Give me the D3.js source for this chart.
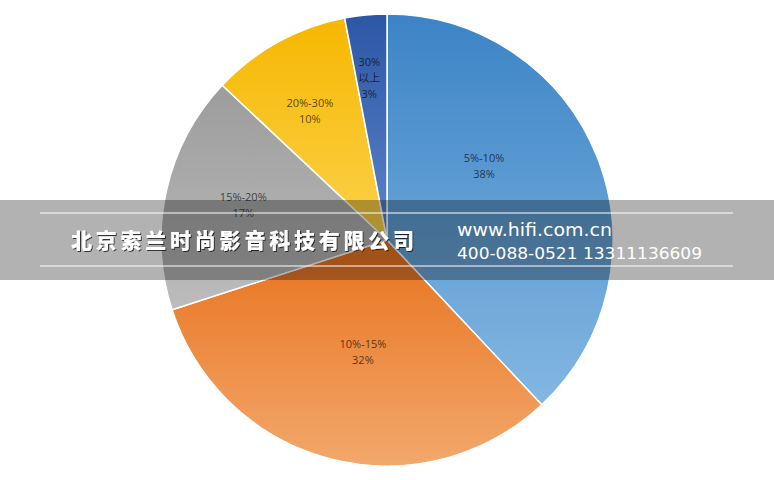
<!DOCTYPE html>
<html><head><meta charset="utf-8">
<script src="https://cdn.jsdelivr.net/npm/d3@7"></script>
<style>html,body{margin:0;padding:0;background:#fff;}svg{display:block;}</style>
</head><body>
<svg id="chart" width="774" height="480"></svg>
<script>
// ---- data ----
const categories = ["5%-10%", "10%-15%", "15%-20%", "20%-30%", "30%以上"];
const values = [38, 32, 17, 10, 3];
const percentLabels = ["38%", "32%", "17%", "10%", "3%"];
const companyName = "北京索兰时尚影音科技有限公司";
const website = "www.hifi.com.cn";
const phones = "400-088-0521  13311136609";

// ---- style / layout ----
const gradTop = ["#3c84c6", "#e8721d", "#9c9c9c", "#f6b700", "#2c57a4"];
const gradBottom = ["#84b7e2", "#f2a86c", "#bcbcbc", "#fbd24c", "#5d84ca"];
const labelFrac = [0.385, 0.48, 0.52, 0.44, 0.42];
const labelRad = [122, 115, 148, 150, 163];

const svg = d3.select("#chart");
const cx = 387, cy = 240, R = 226;
const defs = svg.append("defs");
gradTop.forEach((c, i) => {
  const g = defs.append("linearGradient").attr("id", "g" + i)
    .attr("x1", 0).attr("y1", 0).attr("x2", 0).attr("y2", 1);
  g.append("stop").attr("offset", "0%").attr("stop-color", c);
  g.append("stop").attr("offset", "100%").attr("stop-color", gradBottom[i]);
});

const pie = d3.pie().sort(null).value(d => d);
const arcs = pie(values);
const arc = d3.arc().innerRadius(0).outerRadius(R);
const g = svg.append("g").attr("transform", `translate(${cx},${cy})`);
g.selectAll("path.slice").data(arcs).join("path")
  .attr("class", "slice")
  .attr("d", arc)
  .attr("fill", (d, i) => `url(#g${i})`)
  .attr("stroke", "#ffffff").attr("stroke-width", 1.5).attr("stroke-linejoin", "round");

// labels
g.selectAll("text.lab").data(arcs).join("text")
  .attr("class", "lab")
  .attr("font-family", "'Open Sans', 'Noto Sans CJK SC', sans-serif")
  .attr("font-size", 11)
  .attr("fill", "rgba(0,0,0,0.68)")
  .attr("text-anchor", "middle")
  .each(function(d, i) {
    const a = d.startAngle + (d.endAngle - d.startAngle) * labelFrac[i];
    const x = Math.sin(a) * labelRad[i];
    const y = -Math.cos(a) * labelRad[i];
    let lines = [categories[i], percentLabels[i]];
    if (categories[i] === "30%以上") lines = ["30%", "以上", percentLabels[i]];
    const t = d3.select(this);
    const n = lines.length;
    lines.forEach((s, k) => {
      t.append("tspan").attr("x", x).attr("y", y + (k - (n - 1) / 2) * 16 + 4).text(s);
    });
  });

// watermark band
const wm = svg.append("g");
wm.append("rect").attr("x", 0).attr("y", 200).attr("width", 774).attr("height", 80)
  .attr("fill", "rgba(0,0,0,0.3)");
[213, 266].forEach(y => wm.append("line").attr("x1", 40).attr("x2", 733)
  .attr("y1", y).attr("y2", y).attr("stroke", "#ffffff").attr("stroke-width", 1.2));
const f = defs.append("filter").attr("id", "sh").attr("x", "-5%").attr("y", "-30%").attr("width", "110%").attr("height", "160%");
f.append("feDropShadow").attr("dx", 1).attr("dy", 1).attr("stdDeviation", 0.6).attr("flood-color", "#000").attr("flood-opacity", 0.7);
wm.append("text").attr("x", 71).attr("y", 248)
  .attr("font-family", "'Noto Sans CJK SC', sans-serif").attr("font-weight", 900)
  .attr("font-size", 21).attr("fill", "#ffffff")
  .attr("textLength", 343).attr("lengthAdjust", "spacing")
  .attr("filter", "url(#sh)")
  .text(companyName);
wm.append("text").attr("x", 457).attr("y", 236)
  .attr("font-family", "'DejaVu Sans', sans-serif").attr("font-size", 18)
  .attr("fill", "#ffffff").attr("textLength", 155).attr("lengthAdjust", "spacingAndGlyphs")
  .text(website);
wm.append("text").attr("x", 457).attr("y", 259)
  .attr("font-family", "'DejaVu Sans', sans-serif").attr("font-size", 16.5)
  .attr("fill", "#ffffff").attr("textLength", 245).attr("lengthAdjust", "spacingAndGlyphs")
  .text(phones);
</script>
</body></html>
